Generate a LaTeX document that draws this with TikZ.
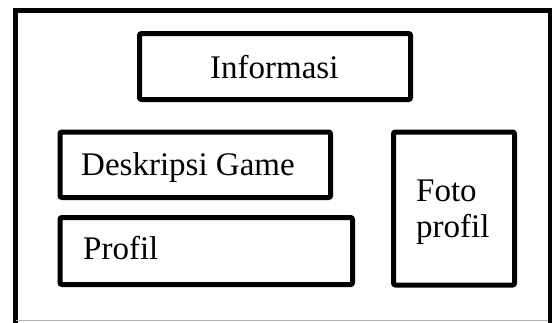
\documentclass[tikz,border=0pt]{standalone}
\usepackage{fontspec}
\setmainfont{Liberation Serif}
\begin{document}
\begin{tikzpicture}[x=1pt,y=-1pt,
  panel/.style={draw=black,line width=5pt,rounded corners=2pt,inner sep=0pt,
                minimum width=#1},
  label/.style={font=\fontsize{33}{36}\selectfont,inner sep=0pt,anchor=base west},
  edge/.style={draw=black!30,line width=1pt}]
  \useasboundingbox (0,0) rectangle (552,322);
  \clip (0,0) rectangle (552,322);
  % outer frame, open below
  \draw[line width=5pt,line join=miter] (15.5,340) -- (15.5,10.5) -- (550.5,10.5) -- (550.5,340);
  \coordinate (bl) at (15.5,320.5);
  \coordinate (br) at (548,320.5);
  \draw[edge] (bl) -- (br);
  % content panels
  \draw[panel] (139.5,33.5) rectangle (410.5,99.5);
  \node[label] (info) at (210,78) {Informasi};
  \draw[panel] (60,132) rectangle (330.5,197.5);
  \node[label] (desk) at (81,175) {Deskripsi Game};
  \draw[panel] (60,217.5) rectangle (352.5,284.5);
  \node[label] (prof) at (83,259) {Profil};
  \draw[panel] (393.5,132) rectangle (514.5,285);
  \node[label] (foto) at (416,201) {Foto};
  \node[label] (foto2) at (416,237) {profil};
\end{tikzpicture}
\end{document}
